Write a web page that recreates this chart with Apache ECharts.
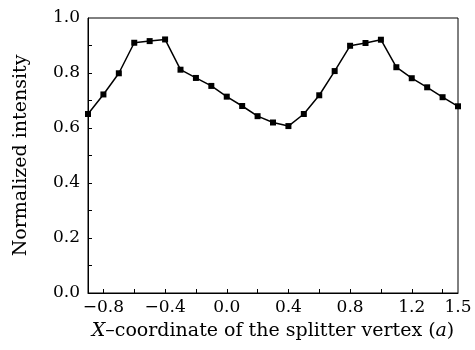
<!DOCTYPE html>
<html>
<head>
<meta charset="utf-8">
<script src="https://cdn.jsdelivr.net/npm/echarts@6/dist/echarts.min.js"></script>
<style>
  html, body { margin: 0; padding: 0; background: #fff; }
  #chart { width: 475px; height: 350px; }
</style>
</head>
<body>
<div id="chart"></div>
<script>
// x positions of the splitter vertex (in units of a)
var xValues = [-0.9, -0.8, -0.7, -0.6, -0.5, -0.4, -0.3, -0.2, -0.1, 0.0,
  0.1, 0.2, 0.3, 0.4, 0.5, 0.6, 0.7, 0.8, 0.9, 1.0, 1.1, 1.2, 1.3, 1.4, 1.5];
var intensity = [0.651, 0.722, 0.799, 0.910, 0.916, 0.922, 0.812, 0.782, 0.753, 0.714,
  0.680, 0.643, 0.620, 0.607, 0.651, 0.719, 0.807, 0.899, 0.909, 0.921,
  0.821, 0.781, 0.748, 0.712, 0.679];

var xTicks = [-0.8, -0.6, -0.4, -0.2, 0.0, 0.2, 0.4, 0.6, 0.8, 1.0, 1.2, 1.4];
var xLabels = [-0.8, -0.4, 0.0, 0.4, 0.8, 1.2, 1.5];
var yTicks = [0.1, 0.2, 0.3, 0.4, 0.5, 0.6, 0.7, 0.8, 0.9];

var points = xValues.map(function (x, i) { return [x, intensity[i]]; });

var font = 'DejaVu Serif';

var chart = echarts.init(document.getElementById('chart'));
chart.setOption({
  animation: false,
  grid: {
    left: 88, right: 17, top: 18, bottom: 57,
    show: true, borderColor: '#000', borderWidth: 1
  },
  xAxis: {
    type: 'value',
    min: -0.9, max: 1.5,
    name: '{i|X}–coordinate of the splitter vertex ({i|a})',
    nameLocation: 'middle',
    nameGap: 29,
    nameTextStyle: {
      color: '#000', fontFamily: font, fontSize: 19,
      rich: { i: { fontStyle: 'italic', fontFamily: font, fontSize: 19, color: '#000' } }
    },
    axisLine: { onZero: false, lineStyle: { color: '#000', width: 1 } },
    axisTick: { inside: true, length: 4, customValues: xTicks, lineStyle: { color: '#000' } },
    axisLabel: {
      customValues: xLabels, margin: 6,
      color: '#000', fontFamily: font, fontSize: 17,
      formatter: function (v) { return (v < 0 ? '−' : '') + Math.abs(v).toFixed(1); }
    },
    splitLine: { show: false }
  },
  yAxis: {
    type: 'value',
    min: 0, max: 1, interval: 0.2,
    name: 'Normalized intensity',
    nameLocation: 'middle',
    nameGap: 57,
    nameTextStyle: { color: '#000', fontFamily: font, fontSize: 19 },
    axisLine: { show: true, onZero: false, lineStyle: { color: '#000', width: 1 } },
    axisTick: { inside: true, length: 4, customValues: yTicks, lineStyle: { color: '#000' } },
    axisLabel: {
      margin: 8, color: '#000', fontFamily: font, fontSize: 17,
      formatter: function (v) { return v.toFixed(1); }
    },
    splitLine: { show: false }
  },
  series: [{
    type: 'line',
    data: points,
    symbol: 'rect',
    symbolSize: 6,
    lineStyle: { color: '#000', width: 1.5 },
    itemStyle: { color: '#000' }
  }]
});
</script>
</body>
</html>
